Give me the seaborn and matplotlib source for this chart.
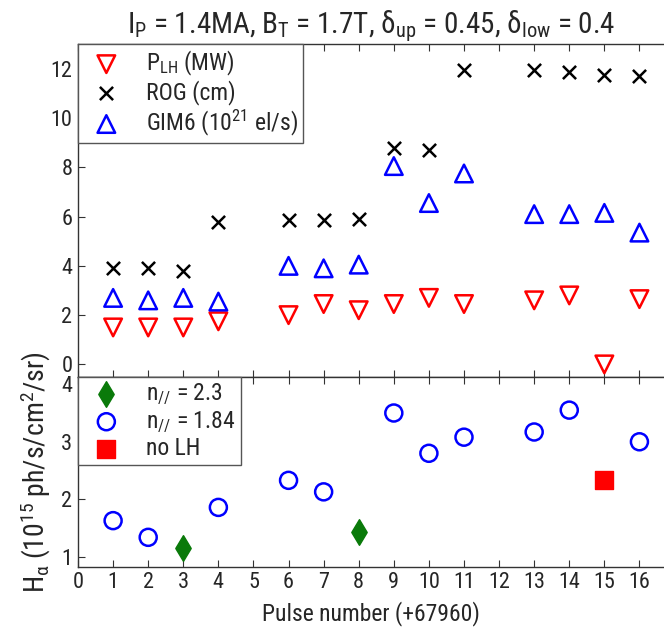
import matplotlib
matplotlib.use("Agg")
import matplotlib.pyplot as plt
import seaborn as sns

# pulse numbers (+67960) and measured values
pulses_top = [1, 2, 3, 4, 6, 7, 8, 9, 10, 11, 13, 14, 15, 16]
p_lh = [1.5, 1.5, 1.5, 1.75, 2.0, 2.45, 2.2, 2.45, 2.7, 2.45, 2.6, 2.8, 0.0, 2.65]
rog = [3.9, 3.9, 3.8, 5.8, 5.85, 5.85, 5.9, 8.8, 8.7, 11.95, 11.95, 11.85, 11.75, 11.7]
gim6 = [2.7, 2.6, 2.7, 2.55, 4.0, 3.9, 4.05, 8.05, 6.55, 7.75, 6.1, 6.1, 6.15, 5.35]

pulses_n184 = [1, 2, 4, 6, 7, 9, 10, 11, 13, 14, 16]
ha_n184 = [1.63, 1.34, 1.86, 2.33, 2.13, 3.5, 2.8, 3.08, 3.17, 3.55, 3.0]
pulses_n23 = [3, 8]
ha_n23 = [1.16, 1.44]
pulses_nolh = [15]
ha_nolh = [2.33]

x_ticks = list(range(0, 17))

sns.set_style("white")
plt.rcParams["font.family"] = ["Roboto Condensed", "DejaVu Sans"]
plt.rcParams["mathtext.fontset"] = "custom"
plt.rcParams["mathtext.rm"] = "Roboto Condensed"
plt.rcParams["mathtext.it"] = "Roboto Condensed:italic"
plt.rcParams["mathtext.default"] = "regular"

fig = plt.figure(figsize=(6.64, 6.30), dpi=100)
ax1 = fig.add_axes([0.1175, 0.402, 0.8825, 0.528])
ax2 = fig.add_axes([0.1175, 0.1005, 0.8825, 0.3015])

lw = 1.8
sns.scatterplot(x=pulses_top, y=p_lh, marker="v", s=160, facecolors="none",
                edgecolor="#ff0000", linewidth=lw, ax=ax1,
                label=r"P$_{LH}$ (MW)")
sns.scatterplot(x=pulses_top, y=rog, marker="x", s=90, color="black",
                linewidth=lw, ax=ax1, label="ROG (cm)")
sns.scatterplot(x=pulses_top, y=gim6, marker="^", s=160, facecolors="none",
                edgecolor="#0000ff", linewidth=lw, ax=ax1,
                label=r"GIM6 (10$^{21}$ el/s)")

sns.scatterplot(x=pulses_n23, y=ha_n23, marker="d", s=170, color="#0a7a0a",
                edgecolor="#0a7a0a", ax=ax2, label=r"n$_{//}$ = 2.3")
sns.scatterplot(x=pulses_n184, y=ha_n184, marker="o", s=150, facecolors="none",
                edgecolor="#0000ff", linewidth=lw, ax=ax2, label=r"n$_{//}$ = 1.84")
sns.scatterplot(x=pulses_nolh, y=ha_nolh, marker="s", s=150, color="#ff0000",
                edgecolor="#ff0000", ax=ax2, label="no LH")

for ax in (ax1, ax2):
    ax.set_xlim(0, 16.7)
    ax.set_xticks(x_ticks)
    ax.tick_params(direction="in", top=True, bottom=True, left=True,
                   length=5, width=0.8, labelsize=16, color="#333333", pad=4)
    ax.spines["right"].set_visible(False)
    for s in ("left", "top", "bottom"):
        ax.spines[s].set_color("#333333")
        ax.spines[s].set_linewidth(1.0)
    ax.grid(False)

ax1.set_ylim(-0.5, 13)
ax1.set_yticks([0, 2, 4, 6, 8, 10, 12])
ax1.tick_params(labelbottom=False)
ax2.set_ylim(0.83, 4.13)
ax2.set_yticks([1, 2, 3, 4])
ax2.set_xticklabels([str(t) for t in x_ticks])

ax1.set_title(r"I$_{P}$ = 1.4MA, B$_{T}$ = 1.7T, "
              r"$\delta_{up}$ = 0.45, $\delta_{low}$ = 0.4",
              fontsize=21, pad=6)
ax2.set_xlabel("Pulse number (+67960)", fontsize=17, labelpad=6)
ax2.set_ylabel(r"H$_{\alpha}$ (10$^{15}$ ph/s/cm$^{2}$/sr)",
               fontsize=20, labelpad=6)

leg_kw = dict(loc="upper left", borderaxespad=0, fancybox=False, framealpha=1,
              edgecolor="#555555", fontsize=17, handletextpad=0.7,
              labelspacing=0.1, borderpad=0.2, handlelength=2.0)
l1 = ax1.legend(**leg_kw)
l2 = ax2.legend(**leg_kw)
for leg in (l1, l2):
    leg.get_frame().set_linewidth(1.0)

fig.savefig("out.png", dpi=100)
